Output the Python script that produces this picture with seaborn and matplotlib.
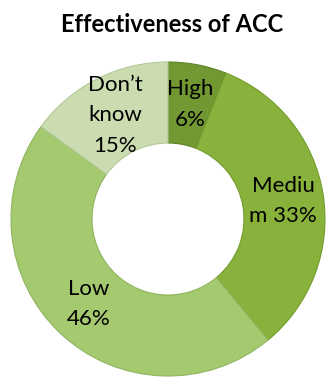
import matplotlib
matplotlib.use("Agg")
import matplotlib.pyplot as plt
import seaborn as sns
import numpy as np

# Survey responses: perceived effectiveness of ACC
categories = ["High", "Medium", "Low", "Don\u2019t know"]
shares = [6, 33, 46, 15]
label_names = ["High", "Mediu\nm", "Low", "Don\u2019t\nknow"]
slice_colors = ["#719832", "#88b23b", "#a4c96f", "#cbddb0"]
edge_colors = ["#5f8428", "#739c2e", "#8fb460", "#b3c898"]

sns.set_theme(style="white")
plt.rcParams["font.family"] = ["Lato", "DejaVu Sans"]

fig = plt.figure(figsize=(3.26, 3.77), dpi=100)
fig.patch.set_facecolor("white")

# Axes sized so the ring spans the lower part of the canvas
W, H = 326, 377
cx, cy, r = 168, 219, 157
ax = fig.add_axes([(cx - r) / W, 1 - (cy + r) / H, 2 * r / W, 2 * r / H])

ring_width = 0.516
wedges, _ = ax.pie(
    shares,
    colors=slice_colors,
    startangle=90,
    counterclock=False,
    radius=1.0,
    wedgeprops=dict(width=ring_width, linewidth=0.8),
)
for w, ec in zip(wedges, edge_colors):
    w.set_edgecolor(ec)

# Category name and percentage at the middle of each ring segment
mid_r = 1.0 - ring_width / 2
for w, name, val in zip(wedges, label_names, shares):
    ang = np.deg2rad((w.theta1 + w.theta2) / 2)
    x, y = mid_r * np.cos(ang), mid_r * np.sin(ang)
    if name.endswith("\nm"):
        txt = f"{name} {val}%"
    else:
        txt = f"{name}\n{val}%"
    ax.text(x, y, txt, ha="center", va="center", fontsize=16,
            color="black", linespacing=1.65)

ax.set_xlim(-1, 1)
ax.set_ylim(-1, 1)
ax.set_aspect("equal")
ax.axis("off")

fig.text(172 / W, 1 - 24 / H, "Effectiveness of ACC", ha="center", va="center",
         fontsize=17, fontweight="bold", color="black")

fig.savefig("out.png", dpi=100)
